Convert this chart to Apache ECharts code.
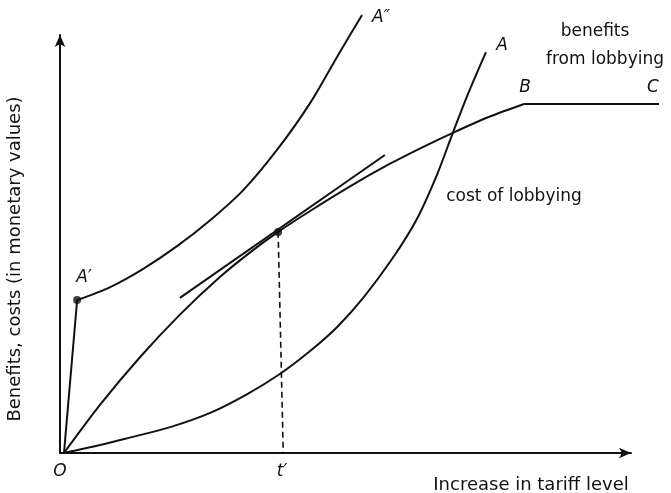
<!DOCTYPE html>
<html><head><meta charset="utf-8">
<script src="https://cdn.jsdelivr.net/npm/echarts@6/dist/echarts.min.js"></script>
<style>html,body{margin:0;padding:0;background:#fff}#c{width:671px;height:493px}</style>
</head><body><div id="c"></div>
<script>
// Benefits from lobbying (rising part O..B), then flat B..C
const tariffBenefit = [0.7, 7.0, 14.0, 21.0, 28.0, 33.3, 38.2, 43.8, 50.8, 57.8, 63.1, 68.8, 75.3, 81.3];
const benefitValue  = [0, 11.5, 22.9, 33.1, 42.1, 48.0, 52.9, 57.9, 63.8, 69.2, 72.9, 76.6, 80.5, 83.5];
const tariffPlateau = [81.3, 104.9];
const plateauValue  = [83.5, 83.5];
// Cost of lobbying, curve O..A
const tariffCost = [0.7, 7.0, 11.7, 19.3, 26.3, 32.8, 38.5, 43.8, 48.5, 53.1, 58.3, 62.5, 66.0, 68.8, 71.3, 74.6];
const costValue  = [0, 1.9, 3.5, 6.2, 9.6, 14.1, 18.9, 24.4, 30.1, 37.1, 46.7, 56.0, 66.5, 76.6, 85.4, 95.9];
// Cost curve with a fixed cost: O..A' jump, then A'..A''
const tariffJump = [0.7, 3.0];
const jumpValue  = [0, 36.6];
const tariffHigh = [3.0, 8.8, 14.5, 20.5, 26.3, 32.1, 38.0, 43.8, 49.0, 52.9];
const highValue  = [36.6, 39.7, 44.0, 49.5, 55.7, 62.9, 72.5, 83.7, 95.9, 104.8];
// Tangent at the optimum t'
const tariffTangent = [21.0, 56.9];
const tangentValue  = [37.1, 71.3];
const tariffOptimum = [38.2, 39.1];
const optimumValue  = [52.9, 0];
// Marked points: A' and the tangency point
const pointTariff = [3.0, 38.2];
const pointValue  = [36.6, 52.9];

const zip = (xs, ys) => xs.map((x, i) => [x, ys[i]]);
const ink = '#111';
const lineStyle = { color: ink, width: 2 };
const base = { type: 'line', symbol: 'none', clip: false, silent: true, lineStyle: lineStyle };
const font = 'DejaVu Sans';
function txt(text, x, y, size, italic, extra) {
  return Object.assign({
    type: 'text', x: x, y: y,
    style: { text: text, fill: ink, font: (italic ? 'italic ' : '') + size + 'px "' + font + '"',
             textAlign: 'center', textVerticalAlign: 'middle' }
  }, extra || {});
}
const hiddenAxis = { type: 'value', show: false, splitLine: { show: false } };

const chart = echarts.init(document.getElementById('c'), null, { renderer: 'canvas' });
chart.setOption({
  animation: false,
  backgroundColor: '#fff',
  grid: [
    { left: 60, top: 35, width: 571, height: 418 },
    { left: 60, top: 35, width: 600, height: 418 }
  ],
  xAxis: [
    { type: 'value', min: 0, max: 100, gridIndex: 0,
      axisLine: { lineStyle: { color: ink, width: 2 }, symbol: ['none', 'arrow'], symbolSize: [8, 12] },
      axisTick: { show: false }, axisLabel: { show: false }, splitLine: { show: false } },
    Object.assign({}, hiddenAxis, { gridIndex: 1, min: 0, max: 600 / 5.71 })
  ],
  yAxis: [
    { type: 'value', min: 0, max: 100, gridIndex: 0,
      axisLine: { show: true, lineStyle: { color: ink, width: 2 }, symbol: ['none', 'arrow'], symbolSize: [8, 12] },
      axisTick: { show: false }, axisLabel: { show: false }, splitLine: { show: false } },
    Object.assign({}, hiddenAxis, { gridIndex: 1, min: 0, max: 100 })
  ],
  series: [
    Object.assign({}, base, { name: 'benefits', data: zip(tariffBenefit, benefitValue), smooth: 0.3 }),
    Object.assign({}, base, { name: 'plateau', data: zip(tariffPlateau, plateauValue), xAxisIndex: 1, yAxisIndex: 1 }),
    Object.assign({}, base, { name: 'cost', data: zip(tariffCost, costValue), smooth: 0.3 }),
    Object.assign({}, base, { name: 'jump', data: zip(tariffJump, jumpValue) }),
    Object.assign({}, base, { name: 'cost2', data: zip(tariffHigh, highValue), smooth: 0.3 }),
    Object.assign({}, base, { name: 'tangent', data: zip(tariffTangent, tangentValue) }),
    Object.assign({}, base, { name: 'optimum', data: zip(tariffOptimum, optimumValue),
      lineStyle: { color: ink, width: 1.6, type: [6, 4] } }),
    { type: 'scatter', data: zip(pointTariff, pointValue), symbolSize: 8, clip: false,
      itemStyle: { color: ink }, silent: true }
  ],
  graphic: [
    txt('A\u2033', 381, 18, 17, true),
    txt('A', 502, 46, 17, true),
    txt('benefits', 595, 32, 17, false),
    txt('from lobbying', 605, 60, 17, false),
    txt('B', 525, 88, 17, true),
    txt('C', 653, 88, 17, true),
    txt('cost of lobbying', 514, 197, 17, false),
    txt('A\u2032', 84, 278, 17, true),
    txt('O', 60, 472, 17, true),
    txt('t\u2032', 282, 472, 17, true),
    txt('Increase in tariff level', 531, 485, 18, false),
    txt('Benefits, costs (in monetary values)', 15, 259, 18, false, { rotation: Math.PI / 2 })
  ]
});
</script></body></html>
